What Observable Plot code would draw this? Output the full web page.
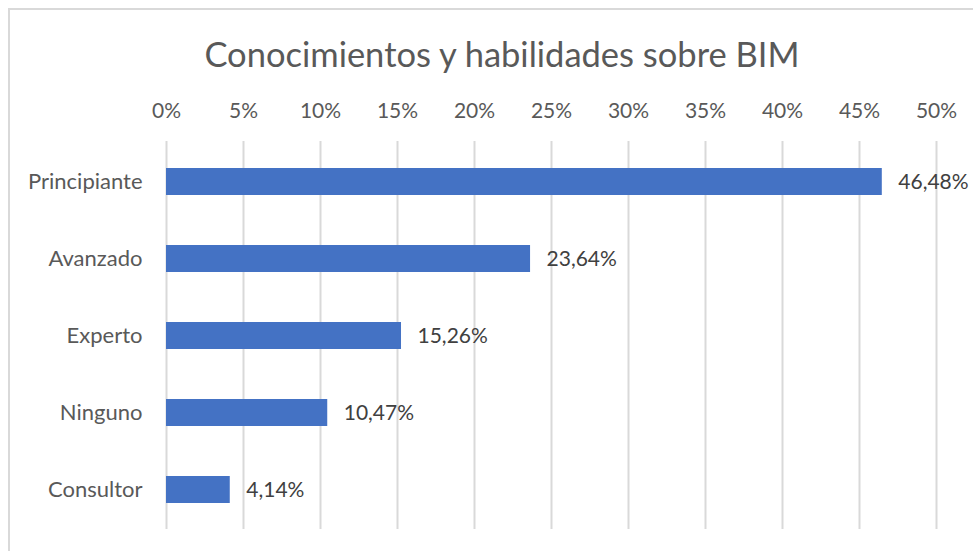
<!DOCTYPE html>
<html>
<head>
<meta charset="utf-8">
<script src="https://cdn.jsdelivr.net/npm/d3@7"></script>
<script src="https://cdn.jsdelivr.net/npm/@observablehq/plot@0.6"></script>
<style>
  html, body { margin: 0; padding: 0; background: #ffffff; }
  #chart { position: relative; width: 973px; height: 551px; overflow: hidden; background: #fff; font-family: Lato, "Open Sans", sans-serif; }
  #frame { position: absolute; left: 8px; top: 8px; width: 1000px; height: 600px; border-top: 2px solid #D9D9D9; border-left: 2px solid #D9D9D9; box-sizing: border-box; }
  #title { position: absolute; left: 0; top: 29px; width: 1004px; text-align: center; font-size: 34.5px; color: #595959; line-height: 50px; white-space: nowrap; }
  #plot { position: absolute; left: 0; top: 0; }
</style>
</head>
<body>
<div id="chart">
  <div id="frame"></div>
  <div id="plot"></div>
  <div id="title">Conocimientos y habilidades sobre BIM</div>
</div>
<script>
const categories = ["Principiante", "Avanzado", "Experto", "Ninguno", "Consultor"];
const values = [46.48, 23.64, 15.26, 10.47, 4.14];
const xTicks = [0, 5, 10, 15, 20, 25, 30, 35, 40, 45, 50];

const data = categories.map((c, i) => ({cat: c, value: values[i]}));
const fmtLabel = v => v.toFixed(2).replace(".", ",") + "%";

const chart = Plot.plot({
  width: 973,
  height: 551,
  marginTop: 141,
  marginBottom: 22,
  marginLeft: 166,
  marginRight: 37,
  style: {fontFamily: "Lato, 'Open Sans', sans-serif", color: "#595959", background: "transparent", overflow: "visible"},
  x: {domain: [0, 50], axis: null},
  y: {domain: categories, paddingInner: 0.65, paddingOuter: 0.325, axis: null},
  marks: [
    Plot.gridX(xTicks, {stroke: "#D9D9D9", strokeOpacity: 1, strokeWidth: 2}),
    Plot.axisX({anchor: "top", ticks: xTicks, tickSize: 0, tickPadding: 24, tickFormat: d => d + "%", fontSize: 21, fill: "#595959", label: null}),
    Plot.axisY({anchor: "left", tickSize: 0, tickPadding: 24, fontSize: 22, fill: "#595959", label: null}),
    Plot.barX(data, {x: "value", y: "cat", fill: "#4472C4"}),
    Plot.text(data, {x: "value", y: "cat", text: d => fmtLabel(d.value), textAnchor: "start", dx: 16, fontSize: 21, fill: "#404040"})
  ]
});
document.getElementById("plot").appendChild(chart);
</script>
</body>
</html>
